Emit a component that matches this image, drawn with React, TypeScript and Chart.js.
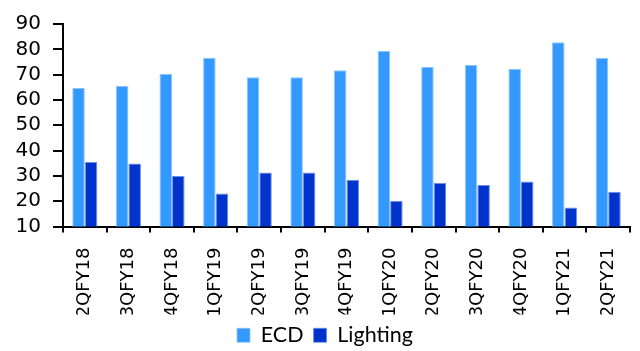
import React, { useEffect, useRef } from "react";
import { Chart, registerables } from "chart.js";

Chart.register(...registerables);

const categories = ["2QFY18", "3QFY18", "4QFY18", "1QFY19", "2QFY19", "3QFY19", "4QFY19", "1QFY20", "2QFY20", "3QFY20", "4QFY20", "1QFY21", "2QFY21"];
const ecdValues = [64.7, 65.5, 70.3, 76.7, 69.0, 69.0, 71.7, 79.3, 73.1, 73.8, 72.3, 82.8, 76.6];
const lightingValues = [35.5, 34.9, 30.0, 23.0, 31.3, 31.3, 28.5, 20.2, 27.2, 26.4, 27.8, 17.5, 23.7];
const yMin = 10;
const yMax = 90;
const yStep = 10;

export default function App() {
  const ref = useRef<HTMLCanvasElement | null>(null);
  useEffect(() => {
    if (!ref.current) return;
    const font = "'DejaVu Sans', sans-serif";
    const chart = new Chart(ref.current, {
      type: "bar",
      data: {
        labels: categories,
        datasets: [
          {
            label: "ECD",
            data: ecdValues,
            backgroundColor: "#3399FF",
            borderColor: "#8CC4FF",
            borderWidth: { top: 1, left: 1, right: 1, bottom: 0 },
            categoryPercentage: 0.575,
            barPercentage: 1,
          },
          {
            label: "Lighting",
            data: lightingValues,
            backgroundColor: "#0033CC",
            borderColor: "#6F8FE6",
            borderWidth: { top: 1, left: 1, right: 1, bottom: 0 },
            categoryPercentage: 0.575,
            barPercentage: 1,
          },
        ],
      },
      options: {
        responsive: false,
        animation: false,
        layout: { padding: { top: 8, right: 0, left: 10, bottom: -5 } },
        plugins: {
          tooltip: { enabled: false },
          legend: {
            position: "bottom",
            labels: {
              font: { family: "Lato, 'Open Sans', sans-serif", size: 21.5 },
              color: "#000",
              boxWidth: 13,
              boxHeight: 14,
              padding: 10,
            },
          },
        },
        scales: {
          x: {
            grid: {
              drawOnChartArea: false,
              color: "#000",
              lineWidth: 2,
              tickLength: 6,
              offset: true,
            },
            border: { color: "#000", width: 2 },
            ticks: {
              color: "#000",
              font: { family: font, size: 18 },
              maxRotation: 90,
              minRotation: 90,
              padding: 15,
              autoSkip: false,
            },
            afterFit: (s: any) => {
              s.height = 88;
              s.paddingRight = 10;
              s.paddingLeft = 0;
            },
          },
          y: {
            min: yMin,
            max: yMax,
            grid: {
              drawOnChartArea: false,
              color: "#000",
              lineWidth: 2,
              tickLength: 10,
            },
            border: { color: "#000", width: 2 },
            ticks: {
              stepSize: yStep,
              autoSkip: false,
              color: "#000",
              font: { family: font, size: 20 },
              padding: 12,
            },
            afterFit: (s: any) => {
              s.width = 53;
            },
          },
        },
      },
    });
    return () => chart.destroy();
  }, []);
  return (
    <div style={{ position: "fixed", left: 0, top: 0, width: 640, height: 351, background: "#fff" }}>
      <canvas ref={ref} width={640} height={351} style={{ width: 640, height: 351 }} />
    </div>
  );
}
